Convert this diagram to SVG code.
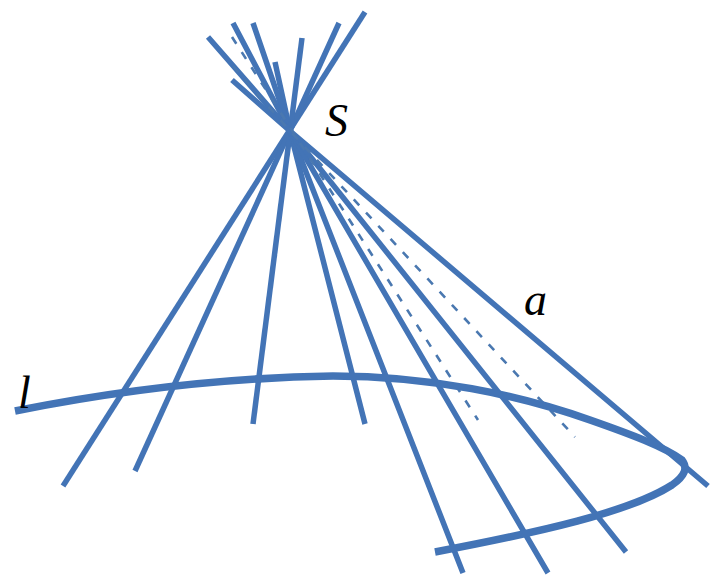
<svg xmlns="http://www.w3.org/2000/svg" width="720" height="586" viewBox="0 0 720 586">
<style>
.r{fill:none;stroke:#4374b6;stroke-width:5.5}
.d{fill:none;stroke:#4a78b0;stroke-width:2.6;stroke-dasharray:8 10}
.c{fill:none;stroke:#4374b6;stroke-width:7.5}
.t{font-family:"Liberation Serif",serif;font-style:italic;fill:#000}
</style>
<rect width="720" height="586" fill="#fff"/>
<g id="connectors">
<path class="r" d="M365 12L63 486"/>
<path class="r" d="M339 23L135 471"/>
<path class="r" d="M302 38L253 424"/>
<path class="r" d="M275 62L290 131L365 424"/>
<path class="r" d="M253 23L290 131L463 573"/>
<path class="r" d="M233 23L290 131L548 573"/>
<path class="r" d="M208 37L290 131L626 552"/>
<path class="r" d="M232 80L290 131L708 486"/>
<path class="d" d="M232 37L478 420"/>
<path class="d" d="M233 66L290 131L575 437"/>
</g>
<g id="curve-l"><path class="c" d="M15 411C90 396 200 378 333 376C430 376 520 395 590 420C630 434 665 447 682 460C688 468 685 476 672 485C630 512 540 532 435 552"/></g>
<g id="label-S"><text class="t" x="325" y="136" font-size="46">S</text></g>
<g id="label-a"><text class="t" x="524" y="315" font-size="46">a</text></g>
<g id="label-l"><text class="t" x="18" y="408" font-size="46">l</text></g>
</svg>
